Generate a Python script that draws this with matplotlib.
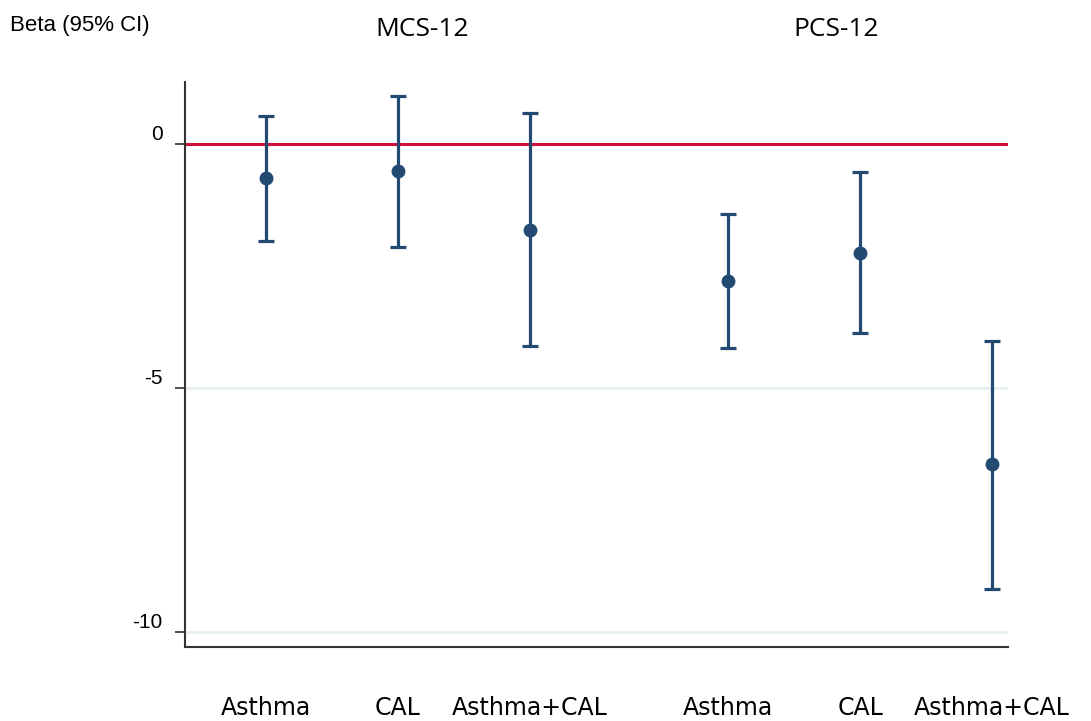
import matplotlib.pyplot as plt

# data
outcomes = ["MCS-12", "PCS-12"]
groups = ["Asthma", "CAL", "Asthma+CAL"]
beta = [-0.70, -0.55, -1.76, -2.81, -2.23, -6.56]
ci_low = [-1.99, -2.11, -4.14, -4.18, -3.87, -9.12]
ci_high = [0.57, 0.98, 0.64, -1.43, -0.57, -4.04]
yticks = [0, -5, -10]

navy = "#224a72"
red = "#cf1038"

fig = plt.figure(figsize=(10.91, 7.21), dpi=100)
ax = fig.add_axes([0.1696, 0.1026, 0.7544, 0.7837])

# x positions: groups side by side, wider gap between the two outcomes
xs = []
labels = []
for i, out in enumerate(outcomes):
    for j, g in enumerate(groups):
        xs.append(i * (len(groups) + 0.5) + j)
        labels.append(g)

err_lo = [b - lo for b, lo in zip(beta, ci_low)]
err_hi = [hi - b for b, hi in zip(beta, ci_high)]

for y in yticks[1:]:
    ax.axhline(y, color="#e6eff0", lw=2, zorder=1)
ax.axhline(0, color=red, lw=2.2, zorder=2)

ax.errorbar(xs, beta, yerr=[err_lo, err_hi], fmt="o", color=navy,
            ms=9, elinewidth=2.3, capsize=6, capthick=2.3, zorder=3)

ax.set_xlim(xs[0] - 0.61, xs[-1] + 0.12)
ax.set_ylim(-10.31, 1.27)

ax.set_yticks(yticks)
ax.set_yticklabels([str(t) for t in yticks], fontsize=15,
                   family=["Liberation Sans", "DejaVu Sans"])
ax.tick_params(axis="y", length=7, width=1.2, color="#333333", pad=9)
for lab in ax.get_yticklabels():
    lab.set_verticalalignment("bottom")

ax.set_xticks(xs)
ax.set_xticklabels(labels, fontsize=17,
                   family=["Liberation Sans Narrow", "DejaVu Sans"])
ax.tick_params(axis="x", length=0, pad=35)

ax.spines["top"].set_visible(False)
ax.spines["right"].set_visible(False)
for s in ["left", "bottom"]:
    ax.spines[s].set_color("#333333")
    ax.spines[s].set_linewidth(1.5)

# titles above each outcome and the y label at top left
fig.text(422 / 1091, 1 - 30 / 721, outcomes[0], fontsize=19, ha="center",
         va="center", family=["Open Sans", "DejaVu Sans"])
fig.text(836 / 1091, 1 - 30 / 721, outcomes[1], fontsize=19, ha="center",
         va="center", family=["Open Sans", "DejaVu Sans"])
fig.text(10 / 1091, 1 - 25 / 721, "Beta (95% CI)", fontsize=16, ha="left",
         va="center", family=["Liberation Sans", "DejaVu Sans"])

fig.savefig("out.png", dpi=100)
